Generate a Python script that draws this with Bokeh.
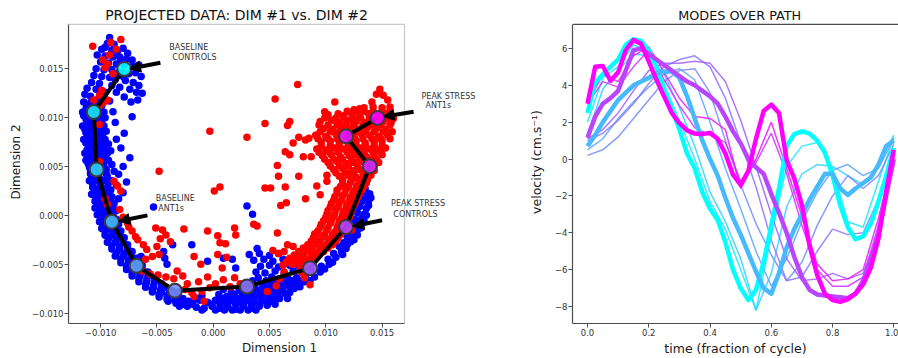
import numpy as np
from bokeh.plotting import figure
from bokeh.layouts import row
from bokeh.models import (Range1d, FixedTicker, CustomJSTickFormatter,
                          Arrow, NormalHead, Label, Span, BoxAnnotation)
from bokeh.embed import file_html
from bokeh.resources import INLINE

FONT = "DejaVu Sans"

# ---------------- data: left panel (values in units of 1e-3) ----------------
BLUE_PTS_MILLI = [
    (-9.2,18.2),(-9.4,17.6),(-8.8,17.5),(-9.9,17.0),(-9.0,16.9),(-8.5,16.8),(-8.0,17.1),(-7.6,16.6),
    (-10.3,16.4),(-9.6,16.3),(-8.9,16.2),(-8.3,16.2),(-7.7,16.0),(-7.2,15.9),(-10.0,15.7),(-9.3,15.6),
    (-8.6,15.5),(-7.9,15.4),(-7.1,15.3),(-6.6,15.4),(-10.4,15.0),(-9.7,14.9),(-9.0,14.9),(-8.4,14.6),
    (-7.5,14.5),(-6.9,14.6),(-6.4,14.2),(-10.6,14.3),(-9.9,14.2),(-9.2,14.1),(-8.7,13.9),(-7.8,13.8),
    (-7.1,13.6),(-6.6,13.3),(-6.3,12.5),(-6.8,12.6),(-7.4,12.9),(-8.3,13.1),(-9.0,13.3),(-10.8,13.6),
    (-11.2,13.0),(-10.4,12.9),(-9.6,12.6),(-7.9,12.1),(-6.7,11.8),(-7.3,11.6),(-11.4,12.4),(-10.9,12.2),
    (-10.2,11.9),(-9.2,11.7),(-9.6,17.2),(-8.2,15.9),(-9.5,15.2),(-8.0,14.2),(-10.1,13.5),(-8.6,12.6),
    (-11.5,11.6),(-10.9,11.5),(-10.3,11.4),(-11.3,10.9),(-10.7,10.8),(-10.0,11.0),
    (-11.5,10.2),(-10.9,10.1),(-10.2,10.3),(-9.6,10.0),(-11.2,9.5),(-10.6,9.4),(-9.9,9.6),
    (-11.4,8.8),(-10.8,8.7),(-10.1,8.9),(-9.5,8.6),(-11.1,8.1),(-10.5,8.2),(-9.8,8.0),
    (-11.3,7.4),(-10.7,7.3),(-10.0,7.5),(-9.3,7.3),(-11.2,6.7),(-10.5,6.6),(-9.8,6.8),(-9.1,6.6),
    (-11.0,6.0),(-10.3,5.9),(-9.6,6.1),(-11.1,5.3),(-10.4,5.2),(-9.7,5.4),(-9.0,5.2),
    (-10.9,4.6),(-10.2,4.5),(-9.5,4.7),(-8.8,4.5),(-10.8,3.9),(-10.1,3.8),(-9.4,4.0),
    (-10.7,3.2),(-10.0,3.1),(-9.3,3.3),(-8.6,3.1),(-10.5,2.5),(-9.8,2.4),(-9.1,2.6),
    (-10.4,1.8),(-9.7,1.7),(-9.0,1.9),(-8.4,1.7),(-10.2,1.1),(-9.5,1.0),(-8.8,1.2),
    (-10.0,0.4),(-9.3,0.3),(-8.6,0.5),
    (-11.2,11.25),(-10.6,11.25),(-9.9,11.25),(-11.6,10.55),(-11.0,10.55),(-10.3,10.55),(-9.7,10.55),
    (-11.3,9.85),(-10.7,9.85),(-10.1,9.85),(-11.6,9.15),(-11.0,9.15),(-10.3,9.15),(-9.7,9.15),
    (-11.3,8.45),(-10.7,8.45),(-10.1,8.45),(-11.5,7.75),(-10.9,7.75),(-10.3,7.75),(-9.6,7.75),
    (-11.0,7.05),(-10.3,7.05),(-9.6,7.05),(-11.4,6.35),(-10.8,6.35),(-10.1,6.35),(-9.4,6.35),
    (-11.3,5.65),(-10.7,5.65),(-10.0,5.65),(-9.3,5.65),(-11.0,4.95),(-10.4,4.95),(-9.7,4.95),
    (-10.9,4.25),(-10.2,4.25),(-9.5,4.25),(-11.0,3.55),(-10.4,3.55),(-9.7,3.55),(-9.0,3.55),
    (-10.7,2.85),(-10.1,2.85),(-9.4,2.85),(-10.8,2.15),(-10.1,2.15),(-9.4,2.15),
    (-10.5,1.45),(-9.9,1.45),(-9.2,1.45),(-10.5,0.75),(-9.8,0.75),(-9.1,0.75),
    (-10.3,0.05),(-9.6,0.05),(-8.9,0.05),
    (-7.9,8.4),(-8.2,6.9),(-8.6,7.8),(-7.4,5.9),(-8.0,5.0),(-8.4,4.2),(-7.7,3.4),(-8.0,2.3),
    (-8.7,9.5),(-7.2,10.1),(-8.9,10.6),
    (-10.0,-0.3),(-9.3,-0.2),(-8.6,-0.4),(-9.8,-1.0),(-9.1,-1.1),(-8.4,-0.9),
    (-9.6,-1.7),(-8.9,-1.8),(-8.2,-1.6),(-9.3,-2.4),(-8.6,-2.5),(-7.9,-2.3),
    (-9.0,-3.1),(-8.3,-3.2),(-7.6,-3.0),(-8.6,-3.8),(-7.9,-3.9),(-7.2,-3.7),
    (-8.2,-4.5),(-7.5,-4.6),(-6.8,-4.4),(-7.7,-5.2),(-7.0,-5.3),(-6.3,-5.1),
    (-7.2,-5.9),(-6.5,-6.0),(-5.8,-5.8),(-6.6,-6.5),(-5.9,-6.6),(-5.2,-6.4),
    (-6.0,-7.1),(-5.3,-7.2),(-4.6,-7.0),(-5.4,-7.6),(-4.7,-7.7),(-4.0,-7.5),
    (-4.8,-8.1),(-4.1,-8.2),(-3.4,-8.0),(-4.1,-8.6),(-3.4,-8.7),(-2.7,-8.5),
    (-3.3,-9.0),(-2.6,-9.1),(-1.9,-8.9),
    (-10.1,-0.65),(-9.5,-0.65),(-8.8,-0.65),(-9.9,-1.35),(-9.3,-1.35),(-8.6,-1.35),
    (-9.6,-2.05),(-9.0,-2.05),(-8.3,-2.05),(-9.4,-2.75),(-8.7,-2.75),(-8.0,-2.75),
    (-9.0,-3.45),(-8.3,-3.45),(-7.6,-3.45),(-8.7,-4.15),(-8.0,-4.15),(-7.3,-4.15),
    (-8.2,-4.85),(-7.5,-4.85),(-6.8,-4.85),(-7.7,-5.55),(-7.0,-5.55),(-6.3,-5.55),
    (-7.2,-6.2),(-6.5,-6.2),(-5.8,-6.2),(-6.6,-6.8),(-5.9,-6.8),(-5.2,-6.8),
    (-6.0,-7.35),(-5.3,-7.35),(-4.6,-7.35),(-5.4,-7.85),(-4.6,-7.85),(-3.8,-7.85),
    (-4.8,-8.35),(-4.0,-8.35),(-3.2,-8.35),(-4.0,-8.8),(-3.2,-8.8),(-2.5,-8.8),
    (-3.0,-9.3),(-2.3,-9.3),
    (-1.5,-9.4),(-0.8,-9.5),(-0.1,-9.3),(0.6,-9.5),(1.3,-9.4),(2.0,-9.6),(2.7,-9.3),(3.4,-9.5),
    (4.1,-9.3),(4.8,-9.2),
    (-2.2,-8.8),(-1.2,-8.7),(-0.5,-8.9),(0.2,-8.7),(0.9,-8.9),(1.6,-8.7),(2.3,-8.9),(3.0,-8.7),
    (3.7,-8.9),(4.4,-8.7),(5.2,-8.8),(5.9,-8.5),
    (-1.0,-8.2),(0.5,-8.1),(1.2,-8.3),(1.9,-8.1),(2.6,-8.3),(3.3,-8.1),(4.0,-8.2),(4.7,-8.0),
    (5.4,-8.2),(6.4,-8.0),
    (0.9,-7.6),(2.3,-7.7),(3.4,-7.5),(4.1,-7.7),(4.8,-7.5),(5.5,-7.6),(6.2,-7.4),(7.2,-7.5),
    (3.0,-7.0),(4.4,-7.1),(5.1,-6.9),(5.8,-7.0),(6.5,-6.8),(7.3,-7.0),(8.1,-6.8),
    (4.0,-6.4),(5.2,-6.3),(5.9,-6.5),(6.6,-6.3),(7.4,-6.4),(8.2,-6.2),(9.0,-6.3),
    (-1.0,-9.7),(0.2,-9.7),(1.0,-9.7),(1.7,-9.7),(2.4,-9.7),(3.1,-9.7),(3.8,-9.7),
    (-1.8,-9.1),(-0.1,-9.1),(0.6,-9.1),(1.3,-9.1),(2.0,-9.1),(2.7,-9.1),(3.4,-9.1),(4.1,-9.1),
    (4.8,-9.1),(5.5,-9.1),
    (-1.5,-8.5),(0.8,-8.5),(1.5,-8.5),(2.2,-8.5),(2.9,-8.5),(3.6,-8.5),(4.3,-8.5),(5.0,-8.5),
    (5.7,-8.5),(6.6,-8.5),
    (1.6,-7.9),(2.9,-7.9),(3.6,-7.9),(4.4,-7.9),(5.1,-7.9),(5.8,-7.9),(6.8,-7.9),
    (2.6,-7.3),(3.7,-7.3),(4.5,-7.3),(5.2,-7.3),(5.9,-7.3),(6.8,-7.3),(7.7,-7.3),
    (3.5,-6.7),(4.7,-6.7),(5.5,-6.7),(6.2,-6.7),(7.0,-6.7),(7.8,-6.7),(8.6,-6.7),
    (3.8,-5.8),(4.6,-5.9),(5.5,-5.7),(6.3,-5.9),(7.1,-5.7),(7.9,-5.8),(8.7,-5.6),(9.5,-5.8),
    (4.2,-5.2),(5.0,-5.1),(5.8,-5.3),(6.8,-5.1),(7.6,-5.2),(8.6,-5.0),(9.6,-5.2),(10.3,-5.0),
    (3.6,-4.6),(4.5,-4.5),(5.3,-4.7),(6.2,-4.5),(7.9,-4.6),(10.2,-4.5),(10.9,-4.3),
    (3.2,-4.0),(4.1,-3.9),(5.0,-4.1),(5.8,-3.9),(10.7,-3.9),(11.4,-3.7),
    (3.9,-3.4),(11.2,-3.2),(11.8,-3.4),
    (9.9,-5.5),(10.6,-4.8),(11.5,-4.0),(11.9,-3.0),(12.5,-2.5),(12.8,-2.0),(13.1,-1.3),
    (13.4,-0.6),(13.6,0.0),(13.8,1.0),(14.0,1.8),(12.0,-1.2),(12.3,-0.7),
    (11.6,-2.8),(12.2,-2.7),(11.9,-2.2),(12.5,-2.1),(12.2,-1.6),(12.8,-1.5),(12.4,-1.0),(13.0,-0.9),
    (12.6,-0.4),(13.2,-0.3),(11.9,0.2),(12.8,0.3),(13.4,0.1),(12.1,0.8),(13.0,0.9),(13.6,0.7),
    (13.2,1.4),(13.8,1.5),(13.4,2.0),(13.9,2.2),(13.5,2.7),(13.3,3.5),(13.4,4.2),(13.9,4.6),
    (3.0,0.95),(3.5,0.1),(-5.3,0.85),(-3.6,-3.0),(-1.9,-3.0),(-6.4,-4.2),(-0.5,-4.7),(0.9,-4.4),
    (1.7,-4.5),(2.0,-5.4),(-4.4,-3.7),(-4.1,-5.0),(-4.3,-4.4),
]

RED_PTS_MILLI = [
    (-10.7,17.3),(-9.1,17.7),(-8.2,18.0),(-8.6,17.0),(-9.8,15.9),(-9.2,16.4),(-9.4,15.5),(-8.9,14.5),
    (-9.6,15.1),
    (-10.6,11.8),(-10.1,12.3),(-9.7,11.6),(-9.4,11.8),(-10.0,11.3),(-9.9,12.8),(-10.1,9.3),(-10.1,5.5),
    (-8.8,3.5),(-8.5,3.0),(-8.2,2.5),(-9.6,1.7),(-9.4,1.1),(-8.3,0.6),(-8.0,-0.2),(-7.6,-0.8),
    (-7.5,-1.2),(-7.2,-1.6),(-6.9,-2.2),(-6.7,-2.5),(-6.2,-3.0),(-5.9,-3.5),(-5.4,-4.2),(-6.0,-4.5),
    (-5.0,-3.2),(-4.8,-4.0),
    (-6.3,-5.7),(-5.6,-6.0),(-4.9,-6.1),(-4.2,-6.3),(-3.5,-6.5),(-3.2,-5.7),(-2.7,-6.2),(-2.3,-7.0),
    (-2.5,-7.6),(-1.7,-8.3),(-1.9,-7.9),(-0.8,-8.8),(-1.0,-7.8),
    (-5.1,-1.3),(-4.5,-1.5),(-4.2,-2.0),(-3.8,-2.7),(-4.7,-2.4),(-2.6,-1.4),(-0.5,-1.6),(0.4,-2.1),
    (1.1,-2.9),(0.6,-2.8),(1.9,-1.3),(2.0,-2.0),
    (-1.7,-4.2),(-1.1,-5.0),(0.4,-4.0),(0.8,-5.4),(1.2,-4.3),(-0.5,-6.3),(0.2,-7.0),(0.9,-6.6),
    (1.5,-7.3),(1.9,-6.4),(2.4,-7.0),(-0.3,-7.4),(-1.3,-6.8),
    (-4.8,4.5),(-0.3,8.6),(3.0,8.0),(0.1,2.5),(0.6,2.9),(7.5,13.4),(5.5,11.9),(4.6,9.4),(6.8,9.6),
    (6.6,9.2),(6.4,6.5),(5.7,5.1),(7.6,8.0),(8.2,7.7),(8.5,7.9),(7.1,7.4),(8.0,6.0),(8.7,6.0),
    (6.8,6.2),(5.8,4.0),(7.6,4.0),(4.6,2.8),(5.1,2.8),(6.4,2.9),(9.2,3.0),(10.1,3.5),(10.1,4.1),
    (9.5,2.1),(6.0,1.0),(6.5,1.3),(8.2,1.7),(3.9,-1.1),(3.6,-0.9),(5.7,-1.8),
    (6.6,-3.0),(7.1,-3.2),(5.3,-3.6),(5.8,-3.9),(6.3,-3.7),(9.0,-1.9),(9.2,-2.6),(9.5,-3.4),
    (9.2,8.2),(9.9,10.6),(11.1,10.4),(12.5,10.8),(13.0,10.9),(14.1,11.6),(14.5,12.4),(15.1,12.3),
    (15.5,11.8),(14.8,12.9),(10.8,11.6),(16.0,9.9),
    (13.4,11.0),(14.2,11.1),(15.0,11.0),(15.7,11.1),
    (10.2,10.3),(11.6,10.2),(12.3,10.4),(13.0,10.2),(13.8,10.4),(14.6,10.3),(15.4,10.4),
    (9.5,9.6),(10.5,9.7),(11.2,9.5),(12.0,9.7),(12.7,9.6),(13.5,9.5),(14.3,9.7),(15.1,9.6),(15.8,9.5),
    (9.8,8.9),(10.6,8.8),(11.4,9.0),(12.2,8.9),(12.9,8.8),(13.7,9.0),(14.5,8.9),(15.3,8.8),
    (9.1,8.2),(10.0,8.1),(10.9,8.3),(11.6,8.2),(12.4,8.1),(13.2,8.3),(13.9,8.2),(14.7,8.1),(15.5,8.2),
    (9.6,7.5),(10.4,7.6),(11.2,7.4),(12.0,7.5),(12.7,7.6),(13.5,7.4),(14.3,7.5),(15.0,7.6),
    (9.2,6.8),(10.0,6.7),(10.8,6.9),(11.6,6.8),(12.3,6.7),(13.1,6.9),(13.9,6.8),(14.6,6.7),(15.3,6.9),
    (9.7,6.1),(10.5,6.2),(11.3,6.0),(12.1,6.1),(12.8,6.2),(13.6,6.0),(14.3,6.1),(15.0,6.2),
    (10.2,5.4),(11.0,5.5),(11.8,5.3),(12.5,5.4),(13.3,5.5),(14.0,5.3),(14.7,5.4),
    (10.7,4.7),(11.5,4.8),(12.3,4.6),(13.0,4.7),(13.7,4.8),(14.3,4.6),
    (11.2,4.0),(12.0,4.1),(12.7,3.9),(13.4,4.0),(14.0,4.1),
    (11.9,10.65),(12.7,10.65),(13.4,10.65),(14.2,10.65),(15.0,10.65),(15.7,10.65),
    (9.9,9.95),(10.9,9.95),(11.6,9.95),(12.4,9.95),(13.1,9.95),(13.9,9.95),(14.7,9.95),(15.5,9.95),
    (9.4,9.25),(10.2,9.25),(11.0,9.25),(11.8,9.25),(12.5,9.25),(13.3,9.25),(14.1,9.25),(14.9,9.25),
    (15.7,9.25),
    (9.5,8.55),(10.4,8.55),(11.2,8.55),(12.0,8.55),(12.8,8.55),(13.5,8.55),(14.3,8.55),(15.1,8.55),
    (15.9,8.55),
    (9.3,7.85),(10.2,7.85),(11.0,7.85),(11.8,7.85),(12.6,7.85),(13.3,7.85),(14.1,7.85),(14.9,7.85),
    (15.7,7.85),
    (9.6,7.15),(10.4,7.15),(11.2,7.15),(12.0,7.15),(12.7,7.15),(13.5,7.15),(14.3,7.15),(15.0,7.15),
    (9.4,6.45),(10.3,6.45),(11.1,6.45),(11.9,6.45),(12.6,6.45),(13.4,6.45),(14.2,6.45),(14.9,6.45),
    (9.9,5.75),(10.7,5.75),(11.5,5.75),(12.3,5.75),(13.0,5.75),(13.8,5.75),(14.5,5.75),
    (10.4,5.05),(11.2,5.05),(12.0,5.05),(12.8,5.05),(13.6,5.05),(14.3,5.05),
    (10.9,4.35),(11.7,4.35),(12.5,4.35),(13.3,4.35),(14.0,4.35),
    (11.5,3.65),(12.3,3.65),(13.0,3.65),(13.7,3.65),
    (11.5,3.3),(12.2,3.4),(12.9,3.2),(13.6,3.3),(11.0,2.6),(11.8,2.7),(12.5,2.5),(13.2,2.6),
    (10.8,1.9),(11.5,2.0),(12.2,1.8),(12.9,1.9),(10.5,1.2),(11.2,1.3),(11.9,1.1),(12.6,1.2),
    (10.2,0.5),(10.9,0.6),(11.6,0.4),(12.3,0.5),(10.0,-0.2),(10.7,-0.1),(11.4,-0.3),(12.1,-0.2),
    (9.6,-0.9),(10.4,-0.8),(11.1,-1.0),(11.8,-0.9),(9.3,-1.6),(10.1,-1.5),(10.8,-1.7),(11.5,-1.6),
    (12.3,-1.5),(8.9,-2.3),(9.7,-2.2),(10.4,-2.4),(11.1,-2.3),(8.4,-3.0),(9.2,-2.9),(9.9,-3.1),
    (10.6,-3.0),(7.6,-3.7),(8.4,-3.6),(9.1,-3.8),(9.8,-3.7),(6.8,-4.4),(7.6,-4.3),(8.3,-4.5),
    (9.0,-4.4),(6.2,-5.1),(7.0,-5.0),(7.7,-5.2),(8.4,-5.1),
    (11.3,2.95),(12.0,2.95),(12.7,2.95),(13.4,2.95),(11.0,2.25),(11.7,2.25),(12.4,2.25),(13.0,2.25),
    (10.7,1.55),(11.4,1.55),(12.1,1.55),(12.7,1.55),(10.4,0.85),(11.1,0.85),(11.8,0.85),(12.4,0.85),
    (10.1,0.15),(10.8,0.15),(11.5,0.15),(12.2,0.15),(9.8,-0.55),(10.5,-0.55),(11.2,-0.55),(11.9,-0.55),
    (9.5,-1.25),(10.2,-1.25),(11.0,-1.25),(11.7,-1.25),(9.1,-1.95),(9.9,-1.95),(10.6,-1.95),(11.3,-1.95),
    (8.7,-2.65),(9.5,-2.65),(10.2,-2.65),(10.9,-2.65),(8.0,-3.35),(8.8,-3.35),(9.5,-3.35),(10.2,-3.35),
    (7.2,-4.05),(8.0,-4.05),(8.7,-4.05),(9.4,-4.05),(6.5,-4.75),(7.3,-4.75),(8.0,-4.75),(8.7,-4.75),
    (6.3,-5.8),(7.9,-5.9),(5.9,-6.5),(8.1,-6.4),(5.6,-7.2),(8.6,-7.1),(4.8,-7.8),
]

# path through the projected space (milli-units)
PATH_X_MILLI = [-7.9, -10.6, -10.35, -9.0, -6.8, -3.4, 3.0, 8.6, 11.8, 13.9, 11.8, 14.6]
PATH_Y_MILLI = [14.97, 10.58, 4.69, -0.65, -5.17, -7.72, -7.28, -5.41, -1.19, 5.03, 8.09, 9.97]

ANNOT_LINES = [("BASELINE", "CONTROLS"), ("PEAK STRESS", "ANT1s"),
               ("BASELINE", "ANT1s"), ("PEAK STRESS", "CONTROLS")]
# (x line1, y line1, x line2, y line2) in milli-units
ANNOT_POS_MILLI = [(-3.9, 17.2, -3.63, 16.2), (18.5, 12.2, 18.85, 11.2),
                   (-5.1, 1.73, -4.87, 0.71), (15.8, 1.22, 16.0, 0.10)]
# arrows (x_start, y_start, x_end, y_end) in milli-units
ARROWS_MILLI = [(-4.69, 15.61, -7.43, 15.0), (17.8, 10.6, 15.1, 10.1),
                (-5.84, 0.0, -8.4, -0.61), (15.0, -0.51, 12.4, -1.12)]

LEFT_TITLE = "PROJECTED DATA: DIM #1 vs. DIM #2"
LEFT_TICKS = [-0.010, -0.005, 0.000, 0.005, 0.010, 0.015]
LEFT_TICK_LABELS = ["\u22120.010", "\u22120.005", "0.000", "0.005", "0.010", "0.015"]
LEFT_X_LIMITS = (-0.01285, 0.01699)
LEFT_Y_LIMITS = (-0.01107, 0.01954)

# ---------------- data: right panel ----------------
RIGHT_TITLE = "MODES OVER PATH"
T_THICK = [0.0, 0.025, 0.05, 0.075, 0.1, 0.125, 0.15, 0.175, 0.2, 0.225,
           0.25, 0.275, 0.3, 0.325, 0.35, 0.375, 0.4, 0.425, 0.45, 0.475,
           0.5, 0.525, 0.55, 0.575, 0.6, 0.625, 0.65, 0.675, 0.7, 0.725,
           0.75, 0.775, 0.8, 0.825, 0.85, 0.875, 0.9, 0.925, 0.95, 0.975, 1.0]
V_BASE_CTRL = [2.5, 4.15, 4.6, 5.0, 5.4, 6.2, 6.5, 6.4, 5.9, 5.0,
               3.7, 2.7, 1.6, 0.3, -0.5, -1.8, -2.7, -3.3, -4.5, -6.0,
               -7.0, -7.65, -7.1, -5.6, -3.6, -1.6, 0.7, 1.35, 1.5, 1.38,
               1.0, 0.35, -0.9, -2.5, -3.7, -4.35, -4.2, -3.5, -2.3, -0.9, 0.6]
V_BASE_ANT = [0.7, 1.3, 2.0, 2.6, 3.2, 3.6, 4.0, 4.2, 4.4, 4.65,
              4.75, 4.75, 4.4, 3.4, 2.2, 1.0, 0.0, -0.9, -2.1, -3.2,
              -4.1, -5.1, -6.1, -7.0, -7.3, -6.2, -4.8, -3.8, -3.0, -2.2,
              -1.5, -0.8, -0.8, -1.6, -1.95, -1.6, -1.3, -1.0, -0.3, 0.7, 1.0]
V_PEAK_CTRL = [1.15, 2.3, 3.0, 3.3, 3.7, 4.8, 5.9, 6.0, 5.7, 5.4,
               5.1, 4.8, 4.5, 4.2, 4.0, 3.7, 3.4, 3.0, 2.3, 1.5,
               0.85, 0.0, -0.45, -0.8, -1.9, -2.9, -4.0, -5.3, -6.4, -7.1,
               -7.35, -7.4, -7.45, -7.5, -7.55, -7.3, -6.6, -5.5, -4.0, -2.0, 0.0]
V_PEAK_ANT = [3.0, 5.0, 5.05, 4.25, 4.7, 5.9, 6.45, 6.25, 5.3, 4.3,
              3.4, 2.5, 1.95, 1.55, 1.38, 1.35, 1.42, 1.1, 0.3, -0.85,
              -1.4, -0.65, 1.1, 2.6, 2.95, 2.5, -0.05, -1.05, -2.5, -4.7,
              -6.3, -7.3, -7.65, -7.75, -7.6, -7.3, -6.8, -5.9, -4.3, -1.8, 0.5]

T_THIN = [0.0, 0.05, 0.1, 0.15, 0.2, 0.25, 0.3, 0.35, 0.4, 0.45, 0.5,
          0.55, 0.6, 0.65, 0.7, 0.75, 0.8, 0.85, 0.9, 0.95, 1.0]
V_THIN = {
    1:  [2.0, 4.4, 5.0, 6.2, 5.8, 4.1, 2.1, 0.0, -2.3, -3.8, -6.0, -8.2, -4.2, -0.4, 0.7, 0.9, -0.5, -3.4, -3.7, -1.2, 1.2],
    2:  [1.3, 3.8, 4.8, 5.7, 5.6, 4.6, 2.8, 0.7, -1.8, -3.4, -5.4, -8.2, -6.2, -2.6, -0.8, -0.3, -0.4, -0.9, -1.4, -0.3, 1.3],
    4:  [0.5, 1.1, 2.2, 3.1, 3.9, 4.6, 4.9, 4.3, 2.0, -0.5, -2.7, -5.0, -6.9, -5.4, -3.4, -1.8, -0.6, -0.3, -0.9, -0.5, 1.1],
    5:  [0.2, 0.5, 1.2, 2.2, 3.2, 4.2, 4.8, 4.9, 3.6, 1.0, -1.4, -3.5, -5.2, -6.6, -5.6, -3.6, -2.0, -0.9, -1.6, -0.9, 0.8],
    6:  [1.0, 1.4, 2.1, 3.0, 4.1, 5.0, 5.4, 5.6, 5.0, 3.3, 0.9, -1.5, -4.4, -6.6, -6.4, -5.0, -3.8, -4.1, -4.0, -2.2, 0.3],
    7:  [1.1, 1.6, 2.5, 3.7, 4.8, 5.2, 5.2, 5.3, 5.2, 4.2, 2.1, -0.4, -3.0, -5.4, -6.6, -6.5, -6.2, -6.5, -6.2, -4.0, -0.3],
    9:  [3.0, 4.2, 3.9, 5.0, 5.9, 4.3, 2.9, 1.7, 1.3, 0.9, -1.2, -0.2, 1.4, -0.8, -3.6, -6.0, -6.9, -6.9, -6.4, -3.6, -0.2],
    10: [3.0, 4.6, 4.2, 5.6, 6.1, 4.7, 3.3, 2.3, 2.2, 1.6, -1.6, 0.0, 2.0, -0.5, -3.1, -5.7, -6.6, -6.5, -6.0, -3.2, 0.1],
}
RIGHT_X_TICKS = [0.0, 0.2, 0.4, 0.6, 0.8, 1.0]
RIGHT_X_LABELS = ["0.0", "0.2", "0.4", "0.6", "0.8", "1.0"]
RIGHT_Y_TICKS = [-8, -6, -4, -2, 0, 2, 4, 6]
RIGHT_Y_LABELS = ["\u22128", "\u22126", "\u22124", "\u22122", "0", "2", "4", "6"]
RIGHT_X_LIMITS = (-0.049, 1.0153)
RIGHT_Y_LIMITS = (-8.92, 7.3)

# ---------------- styles ----------------
# 'cool' colormap sampled along the 12 path points
PATH_COLORS = ["#00ffff", "#17e8ff", "#2ed1ff", "#45baff", "#5da2ff", "#748bff",
               "#8b74ff", "#a25dff", "#b945ff", "#d12eff", "#e817ff", "#ff00ff"]
SPINE = "#4d4d4d"
FIG_H = 358
BOTTOM_PX = 34           # space under the axes box for ticks and axis label
TOP_GAP_PX = 24.0        # space above the axes box used by the title
BOX_H_PX = FIG_H - BOTTOM_PX - TOP_GAP_PX
LEFT_BOX_W_PX = 336.0    # width of the left axes box
LEFT_FRAME_W_PX = 422.0  # drawable width of the left figure (box + room for annotations)


def tick_fmt(tick_vals, tick_labels):
    return CustomJSTickFormatter(args=dict(tvals=list(tick_vals), tlabels=list(tick_labels)), code="""
        for (let i = 0; i < tvals.length; i++) {
            if (Math.abs(tick - tvals[i]) < 1e-9) { return tlabels[i]; }
        }
        return "";
    """)


def style_axis(ax, label, tick_vals, tick_labels, label_standoff, label_size="12px"):
    ax.axis_label = label
    ax.axis_label_text_font = FONT
    ax.axis_label_text_font_size = label_size
    ax.axis_label_text_font_style = "normal"
    ax.axis_label_text_color = "#1a1a1a"
    ax.axis_label_standoff = label_standoff
    ax.major_label_text_font = FONT
    ax.major_label_text_font_size = "8.5px"
    ax.major_label_text_color = "#333333"
    ax.major_label_standoff = 1
    ax.major_tick_in = 0
    ax.major_tick_out = 4
    ax.major_tick_line_color = SPINE
    ax.minor_tick_line_color = None
    ax.axis_line_color = SPINE
    ax.axis_line_width = 1.2
    ax.ticker = FixedTicker(ticks=list(tick_vals))
    ax.formatter = tick_fmt(tick_vals, tick_labels)


def extend(lims, px_total, px_box):
    lo, hi = lims
    return lo + (hi - lo) * px_total / px_box


# ---------------- left figure ----------------
p1 = figure(width=490, height=FIG_H, output_backend="svg", toolbar_location=None,
            x_range=Range1d(LEFT_X_LIMITS[0], extend(LEFT_X_LIMITS, LEFT_FRAME_W_PX, LEFT_BOX_W_PX)),
            y_range=Range1d(LEFT_Y_LIMITS[0], extend(LEFT_Y_LIMITS, BOX_H_PX + TOP_GAP_PX, BOX_H_PX)),
            min_border_left=68, min_border_right=0, min_border_top=0, min_border_bottom=BOTTOM_PX)
p1.xgrid.visible = False
p1.ygrid.visible = False
p1.outline_line_color = None
style_axis(p1.xaxis[0], "Dimension 1", LEFT_TICKS, LEFT_TICK_LABELS, 2)
style_axis(p1.yaxis[0], "Dimension 2", LEFT_TICKS, LEFT_TICK_LABELS, 6)
p1.xaxis[0].bounds = LEFT_X_LIMITS
p1.yaxis[0].bounds = LEFT_Y_LIMITS
p1.add_layout(BoxAnnotation(left=LEFT_X_LIMITS[0], right=LEFT_X_LIMITS[1],
                            bottom=LEFT_Y_LIMITS[0], top=LEFT_Y_LIMITS[1],
                            fill_alpha=0, line_color=SPINE, line_width=1.2, level="underlay"))
p1.add_layout(Label(x=(LEFT_X_LIMITS[0] + LEFT_X_LIMITS[1]) / 2, y=LEFT_Y_LIMITS[1], y_offset=9.8,
                    text=LEFT_TITLE, text_font=FONT, text_font_size="14px", text_color="#111111",
                    text_align="center", text_baseline="middle"))

bx = np.array([pt[0] for pt in BLUE_PTS_MILLI]) * 1e-3
by = np.array([pt[1] for pt in BLUE_PTS_MILLI]) * 1e-3
rx = np.array([pt[0] for pt in RED_PTS_MILLI]) * 1e-3
ry = np.array([pt[1] for pt in RED_PTS_MILLI]) * 1e-3
p1.scatter(bx, by, size=7.5, fill_color="#0000ff", line_color=None)
p1.scatter(rx, ry, size=7.5, fill_color="#ff0000", line_color=None)

px = np.array(PATH_X_MILLI) * 1e-3
py = np.array(PATH_Y_MILLI) * 1e-3
p1.line(px, py, line_color="black", line_width=4)
p1.scatter(px, py, size=14, fill_color=PATH_COLORS, fill_alpha=0.9,
           line_color="#3a3a3a", line_width=2)

for (xs, ys, xe, ye) in ARROWS_MILLI:
    p1.add_layout(Arrow(x_start=xs * 1e-3, y_start=ys * 1e-3, x_end=xe * 1e-3, y_end=ye * 1e-3,
                        line_color="black", line_width=4,
                        end=NormalHead(size=11, fill_color="black", line_color="black", line_width=1)))

for (l1, l2), (x1, y1, x2, y2) in zip(ANNOT_LINES, ANNOT_POS_MILLI):
    for txt, xx, yy in ((l1, x1, y1), (l2, x2, y2)):
        p1.add_layout(Label(x=xx * 1e-3, y=yy * 1e-3, text=txt, text_font=FONT,
                            text_font_size="8px", text_color="#333333",
                            text_align="left", text_baseline="middle"))

# ---------------- right figure ----------------
p2 = figure(width=408, height=FIG_H, output_backend="svg", toolbar_location=None,
            x_range=Range1d(*RIGHT_X_LIMITS),
            y_range=Range1d(RIGHT_Y_LIMITS[0], extend(RIGHT_Y_LIMITS, BOX_H_PX + TOP_GAP_PX, BOX_H_PX)),
            min_border_left=82, min_border_right=0, min_border_top=0, min_border_bottom=BOTTOM_PX)
p2.xgrid.visible = False
p2.ygrid.visible = False
p2.outline_line_color = None
style_axis(p2.xaxis[0], "time (fraction of cycle)", RIGHT_X_TICKS, RIGHT_X_LABELS, 2, "12.5px")
style_axis(p2.yaxis[0], "velocity (cm.s\u207b\u00b9)", RIGHT_Y_TICKS, RIGHT_Y_LABELS, 8, "12.5px")
p2.yaxis[0].bounds = RIGHT_Y_LIMITS
p2.add_layout(Span(location=RIGHT_Y_LIMITS[1], dimension="width",
                   line_color=SPINE, line_width=1.2))
p2.add_layout(Label(x=0.497, y=RIGHT_Y_LIMITS[1], y_offset=9.4,
                    text=RIGHT_TITLE, text_font=FONT, text_font_size="12.8px", text_color="#111111",
                    text_align="center", text_baseline="middle"))

for idx, vals in V_THIN.items():
    p2.line(T_THIN, vals, line_color=PATH_COLORS[idx], line_width=1.5, line_alpha=0.85)

for idx, vals in ((0, V_BASE_CTRL), (3, V_BASE_ANT), (8, V_PEAK_CTRL), (11, V_PEAK_ANT)):
    p2.line(T_THICK, vals, line_color=PATH_COLORS[idx], line_width=4.5, line_join="round")

layout = row(p1, p2)
open("out.html", "w").write(file_html(layout, INLINE))
